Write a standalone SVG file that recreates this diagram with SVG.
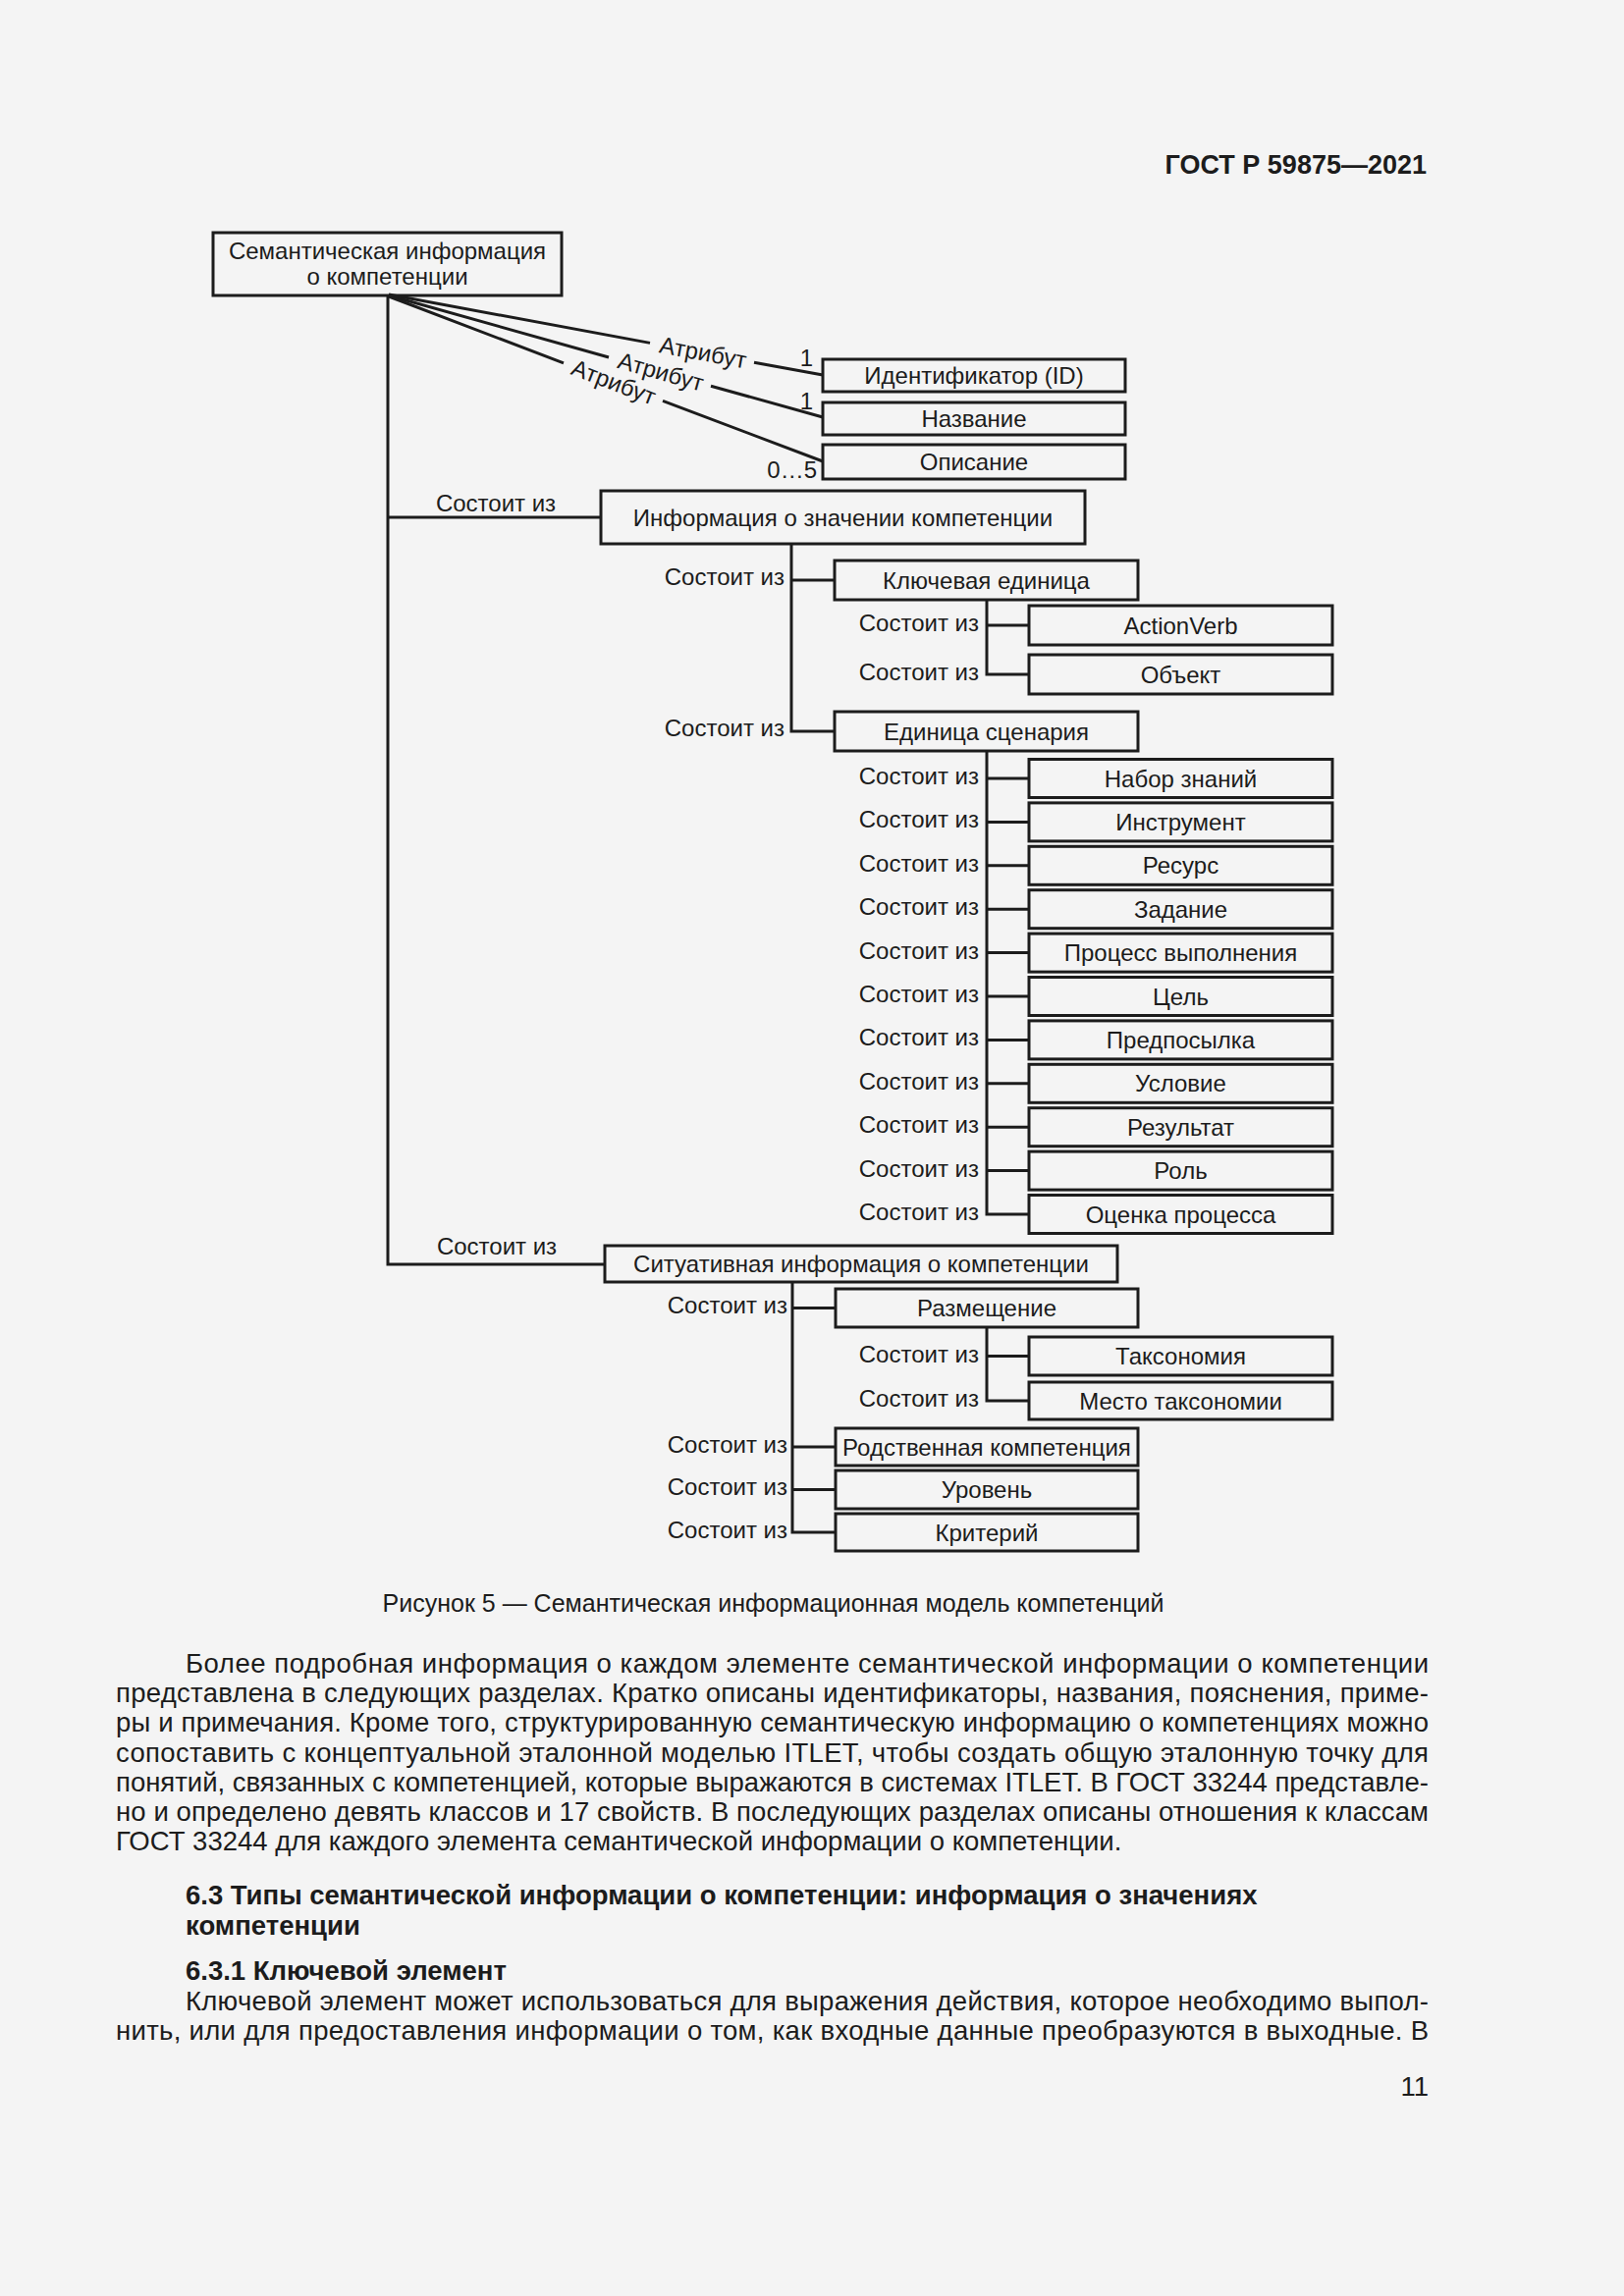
<svg xmlns="http://www.w3.org/2000/svg" width="1654" height="2339" viewBox="0 0 1654 2339">
<style>
.box{fill:none;stroke:#1c1c1c;stroke-width:3}
.ln{fill:none;stroke:#1c1c1c;stroke-width:3}
text{font-family:"Liberation Sans",Arial,sans-serif;fill:#1c1c1c}
.t{font-size:24px;text-anchor:middle}
.lbl{font-size:24px;text-anchor:end}
.lblm{font-size:24px;text-anchor:middle}
.attr{font-size:24px;text-anchor:middle}
.body{font-size:27.5px}
.hd{font-size:27.5px;font-weight:bold}
</style>
<rect x="0" y="0" width="1654" height="2339" fill="#f4f4f4"/>
<text x="1453" y="177" style="font-size:27px;font-weight:bold;text-anchor:end">ГОСТ Р 59875—2021</text>

<g id="connectors">
<path class="ln" d="M395 300 V1288 H616 M395 527 H612"/>
<path class="ln" d="M396 300 L662 349.4 M768 369.2 L838 382"/>
<path class="ln" d="M396 301 L620 364 M724 393.2 L838 425"/>
<path class="ln" d="M396 302 L574 369.9 M675 408.3 L838 470"/>
<path class="ln" d="M806 554 V745 H850 M806 591 H850"/>
<path class="ln" d="M1005 611 V687 H1048 M1005 637 H1048"/>
<path class="ln" d="M1005 765 V1237 H1048 M1005 793 H1048 M1005 837.4 H1048 M1005 881.8 H1048 M1005 926.2 H1048 M1005 970.6 H1048 M1005 1015 H1048 M1005 1059.4 H1048 M1005 1103.8 H1048 M1005 1148.2 H1048 M1005 1192.6 H1048"/>
<path class="ln" d="M807 1306 V1561 H851 M807 1332.5 H851 M807 1474 H851 M807 1517.5 H851"/>
<path class="ln" d="M1005 1352 V1427 H1048 M1005 1381.5 H1048"/>
<text class="attr" transform="translate(716,359.4) rotate(10.53)" dy="8">Атрибут</text>
<text class="attr" transform="translate(673,378.9) rotate(15.7)" dy="8">Атрибут</text>
<text class="attr" transform="translate(625,389.4) rotate(20.85)" dy="8">Атрибут</text>
<text class="lbl" x="828" y="373">1</text>
<text class="lbl" x="828" y="417">1</text>
<text class="lbl" x="832" y="487">0…5</text>
<text class="lblm" x="505" y="521">Состоит из</text>
<text class="lblm" x="506" y="1278">Состоит из</text>
<text class="lbl" x="799" y="596">Состоит из</text>
<text class="lbl" x="799" y="750">Состоит из</text>
<text class="lbl" x="997" y="643">Состоит из</text>
<text class="lbl" x="997" y="693">Состоит из</text>
<text class="lbl" x="997" y="799">Состоит из</text>
<text class="lbl" x="997" y="843.4">Состоит из</text>
<text class="lbl" x="997" y="887.8">Состоит из</text>
<text class="lbl" x="997" y="932.2">Состоит из</text>
<text class="lbl" x="997" y="976.6">Состоит из</text>
<text class="lbl" x="997" y="1021">Состоит из</text>
<text class="lbl" x="997" y="1065.4">Состоит из</text>
<text class="lbl" x="997" y="1109.8">Состоит из</text>
<text class="lbl" x="997" y="1154.2">Состоит из</text>
<text class="lbl" x="997" y="1198.6">Состоит из</text>
<text class="lbl" x="997" y="1243">Состоит из</text>
<text class="lbl" x="802" y="1338">Состоит из</text>
<text class="lbl" x="997" y="1388">Состоит из</text>
<text class="lbl" x="997" y="1433">Состоит из</text>
<text class="lbl" x="802" y="1480">Состоит из</text>
<text class="lbl" x="802" y="1523">Состоит из</text>
<text class="lbl" x="802" y="1567">Состоит из</text>
</g>

<g id="n-root"><rect class="box" x="217" y="237" width="355" height="64"/><text class="t" x="394.5" y="264">Семантическая информация</text><text class="t" x="394.5" y="290">о компетенции</text></g>
<g id="n-id"><rect class="box" x="838" y="366" width="308" height="33"/><text class="t" x="992" y="391">Идентификатор (ID)</text></g>
<g id="n-name"><rect class="box" x="838" y="410" width="308" height="33"/><text class="t" x="992" y="435">Название</text></g>
<g id="n-desc"><rect class="box" x="838" y="453" width="308" height="35"/><text class="t" x="992" y="479">Описание</text></g>
<g id="n-info"><rect class="box" x="612" y="500" width="493" height="54"/><text class="t" x="858.5" y="535.5">Информация о значении компетенции</text></g>
<g id="n-key"><rect class="box" x="850" y="571" width="309" height="40"/><text class="t" x="1004.5" y="599.5">Ключевая единица</text></g>
<g id="n-verb"><rect class="box" x="1048" y="617" width="309" height="40"/><text class="t" x="1202.5" y="645.5">ActionVerb</text></g>
<g id="n-obj"><rect class="box" x="1048" y="667" width="309" height="40"/><text class="t" x="1202.5" y="695.5">Объект</text></g>
<g id="n-scen"><rect class="box" x="850" y="725" width="309" height="40"/><text class="t" x="1004.5" y="753.5">Единица сценария</text></g>
<g id="n-s1"><rect class="box" x="1048" y="773.5" width="309" height="39"/><text class="t" x="1202.5" y="801.5">Набор знаний</text></g>
<g id="n-s2"><rect class="box" x="1048" y="817.9" width="309" height="39"/><text class="t" x="1202.5" y="845.9">Инструмент</text></g>
<g id="n-s3"><rect class="box" x="1048" y="862.3" width="309" height="39"/><text class="t" x="1202.5" y="890.3">Ресурс</text></g>
<g id="n-s4"><rect class="box" x="1048" y="906.7" width="309" height="39"/><text class="t" x="1202.5" y="934.7">Задание</text></g>
<g id="n-s5"><rect class="box" x="1048" y="951.1" width="309" height="39"/><text class="t" x="1202.5" y="979.1">Процесс выполнения</text></g>
<g id="n-s6"><rect class="box" x="1048" y="995.5" width="309" height="39"/><text class="t" x="1202.5" y="1023.5">Цель</text></g>
<g id="n-s7"><rect class="box" x="1048" y="1039.9" width="309" height="39"/><text class="t" x="1202.5" y="1067.9">Предпосылка</text></g>
<g id="n-s8"><rect class="box" x="1048" y="1084.3" width="309" height="39"/><text class="t" x="1202.5" y="1112.3">Условие</text></g>
<g id="n-s9"><rect class="box" x="1048" y="1128.7" width="309" height="39"/><text class="t" x="1202.5" y="1156.7">Результат</text></g>
<g id="n-s10"><rect class="box" x="1048" y="1173.1" width="309" height="39"/><text class="t" x="1202.5" y="1201.1">Роль</text></g>
<g id="n-s11"><rect class="box" x="1048" y="1217.5" width="309" height="39"/><text class="t" x="1202.5" y="1245.5">Оценка процесса</text></g>
<g id="n-sit"><rect class="box" x="616" y="1269" width="522" height="37"/><text class="t" x="877" y="1296">Ситуативная информация о компетенции</text></g>
<g id="n-place"><rect class="box" x="851" y="1313" width="308" height="39"/><text class="t" x="1005" y="1341">Размещение</text></g>
<g id="n-tax"><rect class="box" x="1048" y="1362" width="309" height="39"/><text class="t" x="1202.5" y="1390">Таксономия</text></g>
<g id="n-taxp"><rect class="box" x="1048" y="1408" width="309" height="38"/><text class="t" x="1202.5" y="1435.5">Место таксономии</text></g>
<g id="n-rel"><rect class="box" x="851" y="1455" width="308" height="38"/><text class="t" x="1005" y="1482.5">Родственная компетенция</text></g>
<g id="n-lvl"><rect class="box" x="851" y="1498" width="308" height="39"/><text class="t" x="1005" y="1526">Уровень</text></g>
<g id="n-crit"><rect class="box" x="851" y="1542" width="308" height="38"/><text class="t" x="1005" y="1569.5">Критерий</text></g>

<text x="787.5" y="1642" style="font-size:25px;text-anchor:middle">Рисунок 5 — Семантическая информационная модель компетенций</text>

<g>
<text class="body" x="189" y="1704" textLength="1266" lengthAdjust="spacing">Более подробная информация о каждом элементе семантической информации о компетенции</text>
<text class="body" x="118" y="1734" textLength="1337" lengthAdjust="spacing">представлена в следующих разделах. Кратко описаны идентификаторы, названия, пояснения, приме-</text>
<text class="body" x="118" y="1764" textLength="1337" lengthAdjust="spacing">ры и примечания. Кроме того, структурированную семантическую информацию о компетенциях можно</text>
<text class="body" x="118" y="1794.5" textLength="1337" lengthAdjust="spacing">сопоставить с концептуальной эталонной моделью ITLET, чтобы создать общую эталонную точку для</text>
<text class="body" x="118" y="1824.5" textLength="1337" lengthAdjust="spacing">понятий, связанных с компетенцией, которые выражаются в системах ITLET. В ГОСТ 33244 представле-</text>
<text class="body" x="118" y="1855" textLength="1337" lengthAdjust="spacing">но и определено девять классов и 17 свойств. В последующих разделах описаны отношения к классам</text>
<text class="body" x="118" y="1885">ГОСТ 33244 для каждого элемента семантической информации о компетенции.</text>
<text class="hd" x="189" y="1940">6.3 Типы семантической информации о компетенции: информация о значениях</text>
<text class="hd" x="189" y="1971">компетенции</text>
<text class="hd" x="189" y="2017">6.3.1 Ключевой элемент</text>
<text class="body" x="189" y="2048" textLength="1266" lengthAdjust="spacing">Ключевой элемент может использоваться для выражения действия, которое необходимо выпол-</text>
<text class="body" x="118" y="2078" textLength="1337" lengthAdjust="spacing">нить, или для предоставления информации о том, как входные данные преобразуются в выходные. В</text>
<text class="body" x="1455" y="2135" style="text-anchor:end">11</text>
</g>
</svg>
